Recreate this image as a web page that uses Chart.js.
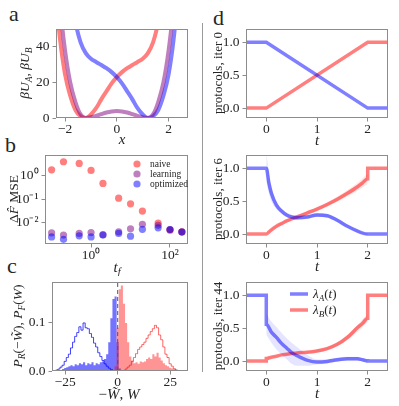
<!DOCTYPE html>
<html>
<head>
<meta charset="utf-8">
<script src="https://cdn.jsdelivr.net/npm/chart.js@4.4.1/dist/chart.umd.min.js"></script>
<style>
  body { margin: 0; background: #fff; }
  #fig { position: relative; width: 399px; height: 406px; overflow: hidden; font-family: "Liberation Serif", serif; color: #262626; }
  #fig canvas { position: absolute; }
  .letter { position: absolute; font-size: 22px; line-height: 1; font-family: "Liberation Serif", serif; }
  #sep { position: absolute; left: 202px; top: 23px; width: 1px; height: 349px; background: #9a9a9a; }
</style>
</head>
<body>
<div id="fig">
  <div class="letter" style="left:9px;top:3px">a</div>
  <div class="letter" style="left:5px;top:134px">b</div>
  <div class="letter" style="left:7px;top:255px">c</div>
  <div class="letter" style="left:213px;top:7px">d</div>
  <div id="sep"></div>
  <canvas id="chartA"></canvas>
  <canvas id="chartB"></canvas>
  <canvas id="chartC"></canvas>
  <canvas id="chartD0"></canvas>
  <canvas id="chartD6"></canvas>
  <canvas id="chartD44"></canvas>
</div>
<script>
const SERIF = 'Liberation Serif';
const INK = '#262626';
const RED = 'rgba(255, 0, 0, 0.5)';
const BLUE = 'rgba(0, 0, 255, 0.5)';
const PURPLE = 'rgba(128, 0, 128, 0.5)';

// --- a: potentials
const potX   = [-2.4, -2.2, -2.0, -1.8, -1.6, -1.4, -1.2, -1.0, -0.8, -0.6, -0.4, -0.2, 0, 0.2, 0.4, 0.6, 0.8, 1.0, 1.2, 1.4, 1.6, 1.8, 2.0, 2.2, 2.4, 2.6, 2.8];
const potA   = [150, 120, 95, 72, 54, 42.5, 36.5, 33.3, 31.5, 29.8, 28, 25.8, 23, 19.5, 15, 10.5, 5.5, 2, 0, 1, 4.5, 12.5, 24.5, 45, 75, 110, 150];
const potB   = [75, 45, 24.5, 12.5, 4.5, 1, 0, 2, 5.5, 10.5, 15, 19.5, 23, 25.8, 28, 29.8, 31.5, 33.3, 36.5, 42.5, 54, 72, 95, 120, 150, 180, 210];
const potMid = [100, 64, 38, 20, 9, 2, 0, 0.4, 1.2, 2.2, 3.1, 3.7, 3.9, 3.7, 3.1, 2.2, 1.2, 0.4, 0, 2, 9, 20, 38, 64, 100, 150, 200];
const aTickX = [-2, 0, 2], aTickXLabels = ['−2', '0', '2'];
const aTickY = [0, 20, 40], aTickYLabels = ['0', '20', '40'];

// --- b: MSE vs t_f
const tf = [0.1, 0.2, 0.5, 1, 2, 5, 10, 20, 50, 100, 200];
const mseNaive     = [1.8, 4.0, 3.4, 1.7, 0.47, 0.11, 0.063, 0.031, 0.0095, 0.0047, 0.004];
const mseLearning  = [0.0036, 0.0029, 0.0034, 0.0037, 0.0030, 0.0040, 0.0054, 0.0084, 0.0076, 0.005, 0.004];
const mseOptimized = [0.0024, 0.0019, 0.0027, 0.0024, 0.0029, 0.0034, 0.0026, 0.0051, 0.0059, 0.005, 0.0039];
const bTickX = [1, 100], bTickXLabels = ['10⁰', '10²'];
const bTickY = [0.01, 0.1, 1], bTickYLabels = ['10⁻²', '10⁻¹', '10⁰'];

// --- c: work histograms (bin centres -30 ... 31)
const workBins = [-30, -29, -28, -27, -26, -25, -24, -23, -22, -21, -20, -19, -18, -17, -16, -15, -14, -13, -12, -11,
  -10, -9, -8, -7, -6, -5, -4, -3, -2, -1, 0, 1, 2, 3, 4, 5, 6, 7, 8, 9,
  10, 11, 12, 13, 14, 15, 16, 17, 18, 19, 20, 21, 22, 23, 24, 25, 26, 27, 28, 29, 30, 31];
const histRevNaive = [
  0, 0.002, 0.004, 0.008, 0.012, 0.02, 0.028, 0.035, 0.048, 0.06,
  0.072, 0.08, 0.092, 0.085, 0.1, 0.09, 0.088, 0.078, 0.07, 0.058,
  0.05, 0.038, 0.03, 0.022, 0.015, 0.01, 0.006, 0.003, 0, 0,
  0, 0, 0, 0, 0, 0, 0, 0, 0, 0,
  0, 0, 0, 0, 0, 0, 0, 0, 0, 0,
  0, 0, 0, 0, 0, 0, 0, 0, 0, 0,
  0, 0];
const histFwdNaive = [
  0, 0, 0, 0, 0, 0, 0, 0, 0, 0,
  0, 0, 0, 0, 0, 0, 0, 0, 0, 0,
  0, 0, 0, 0, 0, 0, 0, 0, 0, 0,
  0, 0, 0, 0, 0.004, 0.008, 0.012, 0.02, 0.028, 0.036,
  0.045, 0.05, 0.055, 0.06, 0.068, 0.075, 0.082, 0.088, 0.095, 0.09,
  0.075, 0.065, 0.05, 0.035, 0.028, 0.015, 0.01, 0.005, 0.002, 0,
  0, 0];
const histRevOpt = [
  0, 0, 0, 0.002, 0.004, 0.006, 0.008, 0.01, 0.012, 0.01,
  0.014, 0.012, 0.016, 0.014, 0.018, 0.012, 0.016, 0.014, 0.018, 0.012,
  0.016, 0.014, 0.018, 0.02, 0.025, 0.035, 0.06, 0.11, 0.15, 0.155,
  0.06, 0.005, 0, 0, 0, 0, 0, 0, 0, 0,
  0, 0, 0, 0, 0, 0, 0, 0, 0, 0,
  0, 0, 0, 0, 0, 0, 0, 0, 0, 0,
  0, 0];
const histFwdOpt = [
  0, 0, 0, 0, 0, 0, 0, 0, 0, 0,
  0, 0, 0, 0, 0, 0, 0, 0, 0, 0,
  0, 0, 0, 0, 0, 0, 0, 0, 0, 0.01,
  0.09, 0.17, 0.178, 0.14, 0.1, 0.06, 0.03, 0.022, 0.016, 0.018,
  0.015, 0.02, 0.018, 0.02, 0.025, 0.028, 0.025, 0.035, 0.03, 0.038,
  0.028, 0.022, 0.016, 0.012, 0.01, 0.007, 0.005, 0.004, 0.003, 0.002,
  0.001, 0];
const cTickX = [-25, 0, 25], cTickXLabels = ['−25', '0', '25'];
const cTickY = [0, 0.1], cTickYLabels = ['0.0', '0.1'];

// --- d: protocols
const d0T = [-0.4, 0, 2, 2.4];
const d0A = [1, 1, 0, 0];
const d0B = [0, 0, 1, 1];

const d6T = [-0.4, 0, 0.05, 0.1, 0.2, 0.3, 0.4, 0.5, 0.6, 0.8, 1.0, 1.2, 1.4, 1.6, 1.8, 1.9, 2.0, 2.0, 2.4];
const d6A = [1, 1.0, 0.78, 0.62, 0.44, 0.35, 0.29, 0.26, 0.25, 0.26, 0.29, 0.28, 0.21, 0.12, 0.045, 0.015, 0.0, 0.0, 0];
const d6B = [0, 0, 0.03, 0.065, 0.12, 0.16, 0.2, 0.23, 0.26, 0.32, 0.38, 0.45, 0.53, 0.62, 0.72, 0.78, 0.84, 1.0, 1.0];
const d6BandT = [0, 0.05, 0.1, 0.2, 0.3, 0.4, 0.5, 0.6, 0.8, 1.0, 1.2, 1.4, 1.6, 1.8, 1.9, 2.0];
const d6ALo = [0.8, 0.62, 0.5, 0.38, 0.31, 0.26, 0.225, 0.215, 0.23, 0.26, 0.25, 0.18, 0.095, 0.025, 0.0, -0.02];
const d6AHi = [1.25, 0.95, 0.74, 0.5, 0.39, 0.33, 0.295, 0.285, 0.29, 0.32, 0.31, 0.24, 0.145, 0.065, 0.03, 0.02];
const d6BLo = [0, 0.02, 0.05, 0.1, 0.14, 0.18, 0.21, 0.24, 0.295, 0.35, 0.415, 0.49, 0.57, 0.66, 0.71, 0.76];
const d6BHi = [0, 0.04, 0.08, 0.14, 0.18, 0.22, 0.25, 0.28, 0.345, 0.41, 0.485, 0.57, 0.67, 0.78, 0.85, 0.92];

const d44T = [-0.4, 0, 0, 0.1, 0.2, 0.3, 0.4, 0.5, 0.6, 0.8, 1.0, 1.2, 1.4, 1.6, 1.8, 1.9, 2.0, 2.0, 2.4];
const d44A = [1, 1, 0.56, 0.44, 0.36, 0.27, 0.2, 0.13, 0.085, 0.015, -0.015, -0.005, 0.02, 0.035, 0.035, 0.02, 0.005, 0, 0];
const d44B = [0, 0, 0.04, 0.06, 0.075, 0.095, 0.105, 0.115, 0.125, 0.135, 0.155, 0.19, 0.255, 0.36, 0.51, 0.575, 0.65, 1.0, 1.0];
const d44BandT = [0, 0.1, 0.2, 0.3, 0.4, 0.5, 0.6, 0.8, 1.0, 1.2, 1.4, 1.6, 1.8, 1.9, 2.0];
const d44ALo = [0.4, 0.28, 0.18, 0.1, 0.03, -0.04, -0.07, -0.07, -0.05, -0.035, -0.01, 0.005, 0.005, -0.005, -0.01];
const d44AHi = [0.72, 0.6, 0.52, 0.43, 0.35, 0.28, 0.22, 0.1, 0.025, 0.03, 0.05, 0.065, 0.065, 0.045, 0.02];
const d44BLo = [0.03, 0.05, 0.065, 0.085, 0.095, 0.105, 0.113, 0.12, 0.135, 0.165, 0.225, 0.32, 0.45, 0.52, 0.59];
const d44BHi = [0.05, 0.07, 0.085, 0.105, 0.115, 0.125, 0.137, 0.15, 0.175, 0.215, 0.285, 0.4, 0.55, 0.64, 0.71];
const dTickX = [0, 1, 2], dTickXLabels = ['0', '1', '2'];
const dTickY = [0, 0.5, 1], dTickYLabels = ['0.0', '0.5', '1.0'];

Chart.defaults.font.family = SERIF;
Chart.defaults.color = INK;

const pts = (xs, ys) => xs.map((x, i) => ({ x, y: ys[i] }));

// text with italic / subscript pieces, drawn centred (or left aligned) on x,y
function richText(ctx, segs, x, y, size, rot, align) {
  ctx.save();
  ctx.translate(x, y);
  ctx.rotate(rot * Math.PI / 180);
  const parts = segs.map(([t, st]) => {
    const sub = st[0] === 's';
    const fs = Math.round((sub ? size * 0.7 : size) * 10) / 10;
    return { t, font: (st.includes('i') ? 'italic ' : '') + fs + 'px "' + SERIF + '"', dy: sub ? size * 0.22 : 0 };
  });
  let w = 0;
  parts.forEach(p => { ctx.font = p.font; p.w = ctx.measureText(p.t).width; w += p.w; });
  let cx = align === 'left' ? 0 : -w / 2;
  ctx.fillStyle = INK;
  ctx.textBaseline = 'alphabetic';
  parts.forEach(p => { ctx.font = p.font; ctx.fillText(p.t, cx, size * 0.33 + p.dy); cx += p.w; });
  ctx.restore();
}

function decor(rect, labels, extra) {
  return {
    id: 'decor',
    afterDraw(chart) {
      const ctx = chart.ctx, a = chart.chartArea;
      ctx.save();
      ctx.strokeStyle = '#8c8c8c';
      ctx.lineWidth = 1;
      ctx.strokeRect(Math.round(a.left) + 0.5, Math.round(a.top) + 0.5, Math.round(a.right - a.left) - 1, Math.round(a.bottom - a.top) - 1);
      ctx.restore();
      labels.forEach(l => richText(ctx, l.segs, l.x - rect.l, l.y - rect.t, l.size, l.rot || 0, l.align));
      if (extra) extra(ctx, rect);
    }
  };
}

function axis(type, min, max, vals, labels, size, horiz) {
  return {
    type, min, max,
    afterFit(s) { if (horiz) s.height = size; else s.width = size; },
    afterBuildTicks(s) { s.ticks = vals.map(v => ({ value: v })); },
    ticks: { autoSkip: false, maxRotation: 0, padding: horiz ? 0 : 3, color: INK,
      font: { family: SERIF, size: 13.5 }, callback: (v, i) => labels[i] },
    grid: { drawOnChartArea: false, drawTicks: true, tickLength: 3.5, color: '#8c8c8c' },
    border: { display: false }
  };
}

function makeChart(id, type, rect, area, datasets, xs, ys, labels, extra) {
  const cv = document.getElementById(id);
  cv.style.left = rect.l + 'px';
  cv.style.top = rect.t + 'px';
  cv.width = rect.w;
  cv.height = rect.h;
  return new Chart(cv, {
    type,
    data: { datasets },
    options: {
      responsive: false, animation: false, devicePixelRatio: 1,
      layout: { padding: { top: area.t - rect.t, right: rect.l + rect.w - area.r, left: 0, bottom: 0 } },
      plugins: { legend: { display: false }, tooltip: { enabled: false } },
      scales: {
        x: axis(xs[0], xs[1], xs[2], xs[3], xs[4], rect.t + rect.h - area.b, true),
        y: axis(ys[0], ys[1], ys[2], ys[3], ys[4], area.l - rect.l, false)
      }
    },
    plugins: [decor(rect, labels, extra)]
  });
}

const curve = (xs, ys, color, w, smooth) => ({
  data: pts(xs, ys), borderColor: color, borderWidth: w, pointRadius: 0, fill: false,
  cubicInterpolationMode: smooth === false ? 'default' : 'monotone', tension: 0
});
const band = (xs, ys, color, fill) => ({
  data: pts(xs, ys), borderWidth: 0, pointRadius: 0, backgroundColor: color,
  fill, cubicInterpolationMode: 'monotone'
});

// a
makeChart('chartA', 'line', { l: 0, t: 18, w: 196, h: 132 }, { l: 56, t: 29, r: 188, b: 118 },
  [curve(potX, potMid, PURPLE, 4), curve(potX, potA, BLUE, 4), curve(potX, potB, RED, 4)],
  ['linear', -2.35, 2.75, aTickX, aTickXLabels], ['linear', 0, 50, aTickY, aTickYLabels],
  [{ x: 122, y: 139, size: 15, segs: [['x', 'i']] },
   { x: 25, y: 73, rot: -90, size: 13.5, segs: [['β', 'i'], ['U', 'i'], ['A', 'si'], [', ', 'r'], ['β', 'i'], ['U', 'i'], ['B', 'si']] }]);

// b
const bSeries = [
  { name: 'naive', ys: mseNaive, color: RED, order: 3 },
  { name: 'learning', ys: mseLearning, color: PURPLE, order: 2 },
  { name: 'optimized', ys: mseOptimized, color: BLUE, order: 1 }
];
makeChart('chartB', 'scatter', { l: 0, t: 144, w: 196, h: 132 }, { l: 45, t: 154, r: 188, b: 244 },
  bSeries.map(s => ({ data: pts(tf, s.ys), backgroundColor: s.color, borderWidth: 0, pointRadius: 3.6, order: s.order })),
  ['logarithmic', 0.068, 286, bTickX, bTickXLabels], ['logarithmic', 0.0012, 7.7, bTickY, bTickYLabels],
  [{ x: 117, y: 267, size: 15, segs: [['t', 'i'], ['f', 'si']] },
   { x: 14, y: 199, rot: -90, size: 13.5, segs: [['Δ', 'r'], ['F\u0302', 'i'], [' MSE', 'r']] }],
  (ctx, rect) => {
    bSeries.forEach((s, i) => {
      const y = 164 + i * 10 - rect.t;
      ctx.fillStyle = s.color;
      ctx.beginPath(); ctx.arc(137 - rect.l, y, 3.6, 0, Math.PI * 2); ctx.fill();
      richText(ctx, [[s.name, 'r']], 150 - rect.l, y, 9.5, 0, 'left');
    });
  });

// c
const stepDs = (ys, color, filled) => ({
  data: pts(workBins, ys), stepped: 'middle', pointRadius: 0,
  borderColor: filled ? 'rgba(0,0,0,0)' : color, borderWidth: filled ? 0 : 1,
  backgroundColor: color, fill: filled ? 'origin' : false
});
makeChart('chartC', 'line', { l: 0, t: 271, w: 196, h: 135 }, { l: 52, t: 281, r: 188, b: 371 },
  [{ data: pts([0, 0], [0, 0.185]), borderColor: '#555', borderWidth: 1, borderDash: [4, 3], pointRadius: 0, fill: false },
   stepDs(histFwdOpt, 'rgba(255, 0, 0, 0.42)', true),
   stepDs(histRevOpt, 'rgba(0, 0, 255, 0.55)', true),
   stepDs(histFwdNaive, 'rgba(255, 0, 0, 0.6)', false),
   stepDs(histRevNaive, 'rgba(0, 0, 255, 0.75)', false)],
  ['linear', -31.3, 33.5, cTickX, cTickXLabels], ['linear', 0, 0.185, cTickY, cTickYLabels],
  [{ x: 119, y: 394, size: 15, segs: [['−', 'r'], ['W\u0303', 'i'], [', ', 'r'], ['W', 'i']] },
   { x: 18, y: 326, rot: -90, size: 13.5, segs: [['P', 'i'], ['R', 'si'], ['(−', 'r'], ['W\u0303', 'i'], ['), ', 'r'], ['P', 'i'], ['F', 'si'], ['(', 'r'], ['W', 'i'], [')', 'r']] }]);

// d
const dX = ['linear', -0.4, 2.4, dTickX, dTickXLabels];
const dY = ['linear', -0.15, 1.2, dTickY, dTickYLabels];
const dLabels = (iter, cy, by) => [
  { x: 317, y: by + 22, size: 15, segs: [['t', 'i']] },
  { x: 218, y: cy, rot: -90, size: 13, segs: [['protocols, iter ' + iter, 'r']] }];

makeChart('chartD0', 'line', { l: 205, t: 18, w: 194, h: 132 }, { l: 246, t: 29, r: 388, b: 118 },
  [curve(d0T, d0A, BLUE, 3.5, false), curve(d0T, d0B, RED, 3.5, false)], dX, dY, dLabels(0, 73, 118));

makeChart('chartD6', 'line', { l: 205, t: 144, w: 194, h: 132 }, { l: 246, t: 154, r: 388, b: 244 },
  [curve(d6T, d6A, BLUE, 3.5), curve(d6T, d6B, RED, 3.5),
   band(d6BandT, d6AHi, 'rgba(0, 0, 255, 0.1)', '+1'), band(d6BandT, d6ALo, 'rgba(0,0,0,0)', false),
   band(d6BandT, d6BHi, 'rgba(255, 0, 0, 0.1)', '+1'), band(d6BandT, d6BLo, 'rgba(0,0,0,0)', false)],
  dX, dY, dLabels(6, 199, 244));

makeChart('chartD44', 'line', { l: 205, t: 271, w: 194, h: 135 }, { l: 246, t: 281, r: 388, b: 371 },
  [curve(d44T, d44A, BLUE, 3.5), curve(d44T, d44B, RED, 3.5),
   band(d44BandT, d44AHi, 'rgba(0, 0, 255, 0.1)', '+1'), band(d44BandT, d44ALo, 'rgba(0,0,0,0)', false),
   band(d44BandT, d44BHi, 'rgba(255, 0, 0, 0.1)', '+1'), band(d44BandT, d44BLo, 'rgba(0,0,0,0)', false)],
  dX, dY, dLabels(44, 326, 371),
  (ctx, rect) => {
    [['A', BLUE, 294], ['B', RED, 310]].forEach(([sub, color, y]) => {
      ctx.strokeStyle = color; ctx.lineWidth = 3.5;
      ctx.beginPath(); ctx.moveTo(290 - rect.l, y - rect.t); ctx.lineTo(308 - rect.l, y - rect.t); ctx.stroke();
      richText(ctx, [['λ', 'i'], [sub, 'si'], ['(', 'r'], ['t', 'i'], [')', 'r']], 313 - rect.l, y - rect.t, 13, 0, 'left');
    });
  });
</script>
</body>
</html>
